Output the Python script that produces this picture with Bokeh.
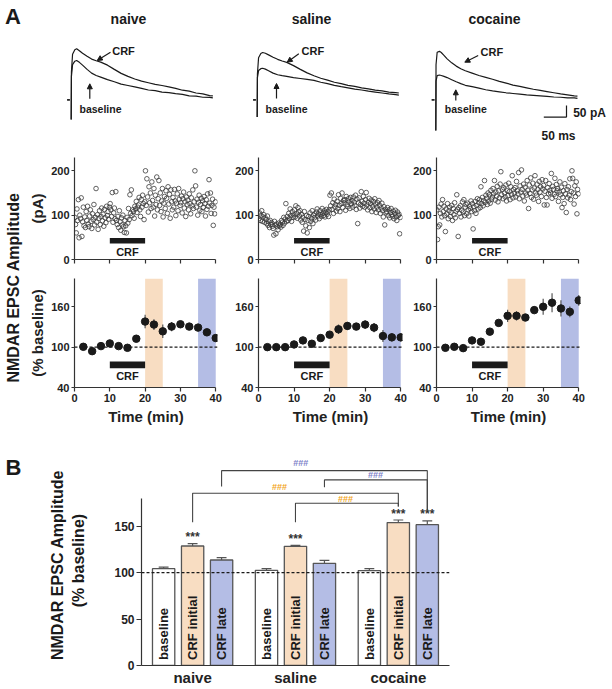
import numpy as np
from math import pi
from bokeh.plotting import figure
from bokeh.layouts import row, column
from bokeh.models import FixedTicker, Arrow, NormalHead, Span, Range1d, CustomLabelingPolicy
from bokeh.embed import file_html
from bokeh.resources import INLINE
from bokeh.core.properties import value

FONT = "Liberation Sans"
INK = "#1a1a1a"
AX = "#333333"
PEACH = "#F8DDC2"
LAV = "#B4BDE5"
ORANGE_TXT = "#F2A51C"
PURPLE_TXT = "#7D80C8"
nan = float("nan")

groups = ["naive", "saline", "cocaine"]
conditions = ["baseline", "CRF initial", "CRF late"]

# ---------------- example EPSC traces (ms, pA) ----------------
trace_t = [-9, -3, nan, 0, 0.5, 3, 8, 12, 18, 25, 35, 45, 55, 65, 80, 95, 110, 125,
           140, 155, 170, 185, 200, 215, 230, 245, 260, 275, 290, 305, 312]
naive_crf = [0, 0, nan, -84, 120, 195, 214, 218, 210, 199, 186, 174, 167, 161, 148, 130, 113, 100,
             89, 80, 73, 66, 61, 55, 49, 41, 37, 29, 25, 18, 17]
naive_base = [0, 0, nan, -84, 100, 150, 165, 168, 160, 148, 130, 114, 104, 97, 86, 77, 67, 61,
              55, 49, 42, 39, 33, 31, 26, 23, 17, 16, 11, 10, 8]
saline_crf = [0, 0, nan, -73, 110, 180, 198, 202, 199, 192, 182, 173, 166, 160, 146, 130, 115, 103,
              92, 84, 75, 69, 62, 57, 51, 47, 41, 38, 33, 31, 29]
saline_base = [0, 0, nan, -73, 95, 125, 133, 135, 131, 124, 114, 107, 103, 100, 95, 91, 87, 83,
               75, 69, 62, 56, 51, 46, 42, 37, 33, 29, 25, 22, 20]
cocaine_crf = [0, 0, nan, -131, 150, 203, 207, 202, 190, 175, 158, 144, 133, 124, 114, 104, 96, 88,
               79, 71, 63, 57, 51, 45, 40, 35, 30, 25, 21, 17, 16]
cocaine_base = [0, 0, nan, -131, 80, 103, 106, 104, 100, 95, 86, 77, 69, 62, 56, 50, 43, 38,
                34, 30, 27, 24, 21, 19, 17, 15, 12, 11, 8, 8, 6]
traces_crf = [naive_crf, saline_crf, cocaine_crf]
traces_base = [naive_base, saline_base, cocaine_base]
scale_pa = 50
scale_ms = 50

# ---------------- time courses: single cell amplitudes (pA) ----------------
scatter_t = np.arange(200) * 0.2 + 0.1
naive_amp = [
    95, 79, 60, 114, 88, 135, 49, 100, 92, 139,
    52, 85, 118, 76, 96, 72, 108, 88, 120, 80,
    74, 98, 112, 86, 70, 103, 90, 124, 78, 95,
    160, 84, 101, 68, 93, 110, 79, 97, 116, 87,
    102, 75, 113, 94, 83, 120, 99, 108, 91, 118,
    126, 112, 97, 151, 84, 105, 116, 92, 153, 88,
    79, 97, 72, 110, 85, 66, 94, 78, 100, 74,
    61, 88, 76, 60, 95, 82, 115, 90, 146, 104,
    157, 99, 112, 108, 93, 120, 114, 131, 106, 118,
    123, 140, 112, 97, 135, 118, 145, 126, 90, 130,
    200, 122, 182, 141, 107, 164, 128, 150, 115, 175,
    133, 118, 160, 98, 145, 124, 186, 112, 137, 178,
    122, 150, 108, 132, 160, 96, 127, 142, 115, 155,
    138, 104, 164, 125, 147, 93, 157, 130, 112, 140,
    118, 158, 132, 99, 127, 148, 110, 160, 136, 122,
    128, 143, 105, 137, 152, 116, 130, 97, 141, 124,
    134, 112, 148, 126, 103, 139, 121, 157, 115, 130,
    200, 166, 118, 136, 100, 129, 145, 111, 124, 138,
    108, 132, 118, 142, 126, 98, 135, 113, 148, 120,
    180, 127, 150, 104, 122, 136, 77, 118, 103, 130,
]
saline_amp = [
    92, 105, 88, 99, 110, 86, 96, 101, 84, 94,
    90, 81, 98, 77, 85, 72, 88, 79, 83, 75,
    70, 55, 86, 78, 58, 80, 74, 67, 82, 76,
    79, 73, 88, 84, 77, 95, 82, 91, 126, 86,
    97, 88, 104, 92, 114, 99, 86, 108, 95, 101,
    112, 96, 121, 103, 93, 117, 107, 98, 110, 89,
    102, 84, 95, 64, 108, 90, 76, 99, 60, 88,
    97, 72, 105, 86, 93, 110, 81, 100, 94, 103,
    89, 107, 114, 98, 103, 92, 110, 101, 97, 115,
    104, 99, 110, 96, 106, 113, 102, 108, 97, 112,
    145, 121, 150, 113, 128, 104, 136, 118, 124, 109,
    131, 115, 146, 122, 108, 138, 126, 150, 117, 133,
    128, 135, 111, 142, 124, 119, 137, 130, 115, 140,
    126, 133, 118, 141, 129, 122, 145, 113, 136, 81,
    128, 139, 116, 124, 153, 131, 120, 142, 127, 118,
    135, 151, 123, 112, 129, 138, 117, 126, 134, 108,
    120, 131, 114, 137, 125, 106, 118, 128, 112, 133,
    122, 104, 116, 127, 110, 96, 119, 78, 113, 105,
    108, 117, 99, 112, 94, 106, 115, 101, 97, 109,
    92, 104, 111, 96, 88, 107, 99, 102, 58, 95,
]
cocaine_amp = [
    112, 45, 74, 118, 78, 104, 125, 96, 135, 108,
    120, 99, 63, 114, 103, 126, 92, 110, 118, 97,
    106, 122, 88, 115, 101, 128, 94, 109, 146, 113,
    52, 117, 104, 121, 96, 111, 130, 107, 135, 99,
    118, 124, 103, 127, 112, 98, 120, 115, 132, 108,
    126, 69, 119, 110, 131, 104, 122, 137, 114, 128,
    135, 117, 164, 126, 140, 121, 133, 178, 129, 145,
    138, 124, 150, 132, 146, 127, 156, 136, 141, 160,
    148, 178, 134, 152, 143, 165, 130, 155, 139, 170,
    198, 146, 158, 137, 162, 150, 141, 168, 132, 155,
    144, 172, 153, 135, 164, 147, 189, 139, 158, 150,
    162, 141, 176, 155, 148, 196, 137, 166, 152, 202,
    158, 143, 170, 132, 163, 150, 145, 178, 156, 115,
    168, 149, 184, 140, 157, 172, 136, 161, 189, 150,
    145, 170, 158, 131, 176, 152, 164, 142, 180, 159,
    167, 123, 154, 178, 140, 123, 162, 148, 171, 156,
    150, 194, 138, 165, 158, 147, 183, 142, 169, 155,
    160, 131, 152, 175, 146, 163, 117, 140, 155, 126,
    171, 148, 106, 158, 139, 164, 145, 182, 135, 153,
    200, 183, 150, 125, 166, 142, 175, 103, 158, 148,
]
scatter_amp = [naive_amp, saline_amp, cocaine_amp]

# ---------------- time courses: group averages (% baseline) ----------------
summary_t = [2.5, 5, 7.5, 10, 12.5, 15, 17.5, 20, 22.5, 25, 27.5, 30, 32.5, 35, 37.5, 40]
naive_mean = [100.5, 94, 101.5, 105.5, 101.5, 99, 112.5, 138, 133.5, 123.5, 130.5, 134, 130.5, 129, 122, 113.5]
naive_sem = [1, 2, 1, 1.5, 1, 1, 5, 10, 8, 10, 7, 5, 4, 3, 3, 5]
saline_mean = [100, 100, 100, 104, 110, 105, 113.5, 118.5, 126.5, 131.5, 130.5, 133.5, 129, 116.5, 114.5, 114.5]
saline_sem = [1, 1, 1, 1.5, 2, 4, 3, 3, 7, 6, 5, 6, 7, 9, 6, 6]
cocaine_mean = [99, 100.5, 98.5, 110, 108, 123, 136, 146.5, 146.5, 144, 155, 160, 166, 157.5, 152.5, 169.5]
cocaine_sem = [2, 1.5, 2, 2, 2, 2, 3, 9, 7, 5, 5, 12, 14, 12, 8, 8]
summary_mean = [naive_mean, saline_mean, cocaine_mean]
summary_sem = [naive_sem, saline_sem, cocaine_sem]
crf_on, crf_off = 10, 20
initial_win = (20, 25)
late_win = (35, 40)

# ---------------- bar summary (% baseline) ----------------
bar_mean = {"naive": [104.3, 128.8, 113.7], "saline": [102.5, 128.4, 110.1], "cocaine": [102.2, 154.0, 151.8]}
bar_sem = {"naive": [1.8, 2.5, 2.5], "saline": [1.8, 1.1, 3.2], "cocaine": [2.1, 2.8, 4.0]}
cond_colors = ["white", PEACH, LAV]


def base_fig(w, h, xr, yr, bl=0, br=0, bt=0, bb=0, axes=True):
    kw = dict(width=w, height=h, x_range=xr, y_range=yr, output_backend="svg",
              toolbar_location=None, tools="", min_border_left=bl, min_border_right=br,
              min_border_top=bt, min_border_bottom=bb)
    if not axes:
        kw.update(x_axis_location=None, y_axis_location=None)
    p = figure(**kw)
    p.outline_line_color = None
    for g in p.grid:
        g.visible = False
    p.background_fill_color = "white"
    p.border_fill_color = "white"
    return p


def txt(p, x, y, s, size, align="center", baseline="middle", angle=0.0, color=INK, style="bold"):
    p.text(x=[x], y=[y], text=[s], angle=angle, text_font=value(FONT),
           text_font_size=value(size), text_font_style=value(style),
           text_align=value(align), text_baseline=value(baseline), text_color=color)


def style_axis(ax, ticks, size="11px", tick_out=3, standoff=2):
    ax.ticker = FixedTicker(ticks=ticks)
    ax.axis_line_color = AX
    ax.axis_line_width = 1.2
    ax.major_tick_line_color = AX
    ax.major_tick_line_width = 1.2
    ax.major_tick_out = tick_out
    ax.major_tick_in = 0
    ax.minor_tick_line_color = None
    ax.major_label_text_font = FONT
    ax.major_label_text_font_style = "bold"
    ax.major_label_text_font_size = size
    ax.major_label_text_color = "#222222"
    ax.major_label_standoff = standoff
    ax.axis_label_text_font = FONT
    ax.axis_label_text_font_style = "bold"
    ax.axis_label_text_font_size = "15px"
    ax.axis_label_text_color = "#222222"
    ax.axis_label_standoff = 2


# ================= panel A: traces =================
TR_W, TR_H = 612, 145
PX_MS, PX_PA = 0.454, 0.234
I_TOP = 99.3 / PX_PA


def tx(sx):
    return sx / PX_MS


def ty(sy):
    return I_TOP - sy / PX_PA


tr = base_fig(TR_W, TR_H, Range1d(0, TR_W / PX_MS), Range1d(I_TOP - TR_H / PX_PA, I_TOP), axes=False)
stim_sx = [70.7, 256.7, 435.3]
title_sx = [128, 311, 494]
for gi, g in enumerate(groups):
    t0 = tx(stim_sx[gi])
    tt = np.array(trace_t, dtype=float) + t0
    tr.line(tt, np.array(traces_base[gi], dtype=float), line_color=INK, line_width=1.2)
    tr.line(tt, np.array(traces_crf[gi], dtype=float), line_color=INK, line_width=1.2)
    txt(tr, tx(title_sx[gi]), ty(18), g, "14px")
txt(tr, tx(4.5), ty(16), "A", "22px", align="left")

crf_arrows = [((110, 51.7), (96.7, 60)), ((298.3, 53.3), (286.7, 61.7)), ((477.7, 55), (464.3, 61.7))]
crf_text = [(111.7, 50), (301, 50), (480, 51.7)]
base_arrows = [((89.3, 98.3), (89.3, 83.3)), ((276, 98), (276, 83)), ((455.3, 100), (455.3, 89.3))]
base_text = [(79, 108.3), (265, 108.3), (444.3, 108.3)]
for (a, b) in crf_arrows + base_arrows:
    tr.add_layout(Arrow(x_start=tx(a[0]), y_start=ty(a[1]), x_end=tx(b[0]), y_end=ty(b[1]),
                        line_color=INK, line_width=1.2,
                        end=NormalHead(size=5, fill_color=INK, line_color=INK, line_width=1)))
for (sx, sy) in crf_text:
    txt(tr, tx(sx), ty(sy), "CRF", "11px", align="left")
for (sx, sy) in base_text:
    txt(tr, tx(sx), ty(sy), "baseline", "10.5px", align="left")
sb_t, sb_i = tx(566), ty(116.7)
tr.segment(x0=[sb_t, sb_t - scale_ms], y0=[sb_i, sb_i], x1=[sb_t, sb_t], y1=[sb_i + scale_pa, sb_i],
           line_color=INK, line_width=1.2)
txt(tr, tx(572.7), ty(112.5), "%d pA" % scale_pa, "12px", align="left")
txt(tr, tx(541), ty(135.5), "%d ms" % scale_ms, "12px", align="left")

# ================= panel A: time courses =================
COLS = [dict(w=206, bl=45, br=15), dict(w=178, bl=24, br=8), dict(w=202, bl=24, br=32)]
X_MAX = 40.5
hide_labels = CustomLabelingPolicy(code="return new Set()")
scatter_figs, summary_figs = [], []
for gi, g in enumerate(groups):
    c = COLS[gi]
    # single-cell scatter
    s = base_fig(c["w"], 125, Range1d(0, X_MAX), Range1d(0, 230), bl=c["bl"], br=c["br"], bt=12, bb=6)
    s.scatter(scatter_t, scatter_amp[gi], marker="circle", size=4.6, fill_color=None,
              line_color="#3a3a3a", line_width=0.8)
    s.quad(left=[crf_on], right=[crf_off], bottom=[36], top=[48.5], fill_color=INK, line_color=None)
    txt(s, (crf_on + crf_off) / 2, 16, "CRF", "11px")
    style_axis(s.yaxis[0], [0, 100, 200])
    style_axis(s.xaxis[0], [0, 10, 20, 30, 40], size="6px", tick_out=4, standoff=0)
    s.xaxis[0].major_label_policy = hide_labels
    s.xaxis[0].bounds = (0, 40)
    if gi == 0:
        s.yaxis[0].axis_label = "(pA)"
    scatter_figs.append(s)

    # group average
    m = base_fig(c["w"], 165, Range1d(0, X_MAX), Range1d(40, 202), bl=c["bl"], br=c["br"], bt=8, bb=48)
    m.quad(left=[initial_win[0], late_win[0]], right=[initial_win[1], late_win[1]],
           bottom=[40, 40], top=[202, 202], fill_color=[PEACH, LAV], line_color=None)
    m.add_layout(Span(location=100, dimension="width", line_color=INK, line_width=1.3, line_dash="3 2"))
    mean = np.array(summary_mean[gi])
    sem = np.array(summary_sem[gi])
    m.segment(summary_t, mean - sem, summary_t, mean + sem, line_color="#555555", line_width=1.2)
    m.scatter(summary_t, mean, marker="circle", size=7.5, fill_color=INK, line_color=INK)
    m.quad(left=[crf_on], right=[crf_off], bottom=[68.5], top=[78.5], fill_color=INK, line_color=None)
    txt(m, (crf_on + crf_off) / 2, 57.5, "CRF", "11px")
    style_axis(m.yaxis[0], [40, 100, 160])
    style_axis(m.xaxis[0], [0, 10, 20, 30, 40], tick_out=4)
    m.xaxis[0].bounds = (0, 40)
    m.xaxis[0].axis_label = "Time (min)"
    m.xaxis[0].axis_label_standoff = 3
    if gi == 0:
        m.yaxis[0].axis_label = "(% baseline)"
    summary_figs.append(m)

labA = base_fig(26, 290, Range1d(0, 26), Range1d(0, 290), axes=False)
txt(labA, 13, 148, "NMDAR EPSC Amplitude", "16px", angle=pi / 2)

# ================= panel B: bars =================
GROUP_STEP = 3.55
bar_x, bar_top, bar_err, bar_fill, bar_lab = [], [], [], [], []
for gi, g in enumerate(groups):
    for ci, cnd in enumerate(conditions):
        bar_x.append(gi * GROUP_STEP + ci)
        bar_top.append(bar_mean[g][ci])
        bar_err.append(bar_sem[g][ci])
        bar_fill.append(cond_colors[ci])
        bar_lab.append(cnd)
bar_x = np.array(bar_x)
bar_top = np.array(bar_top)
bar_err = np.array(bar_err)

PX_UNIT = 0.932
B_H = 253
b = base_fig(502, B_H, Range1d(-0.764, 9.866), Range1d(0, (B_H - 5 - 22) / PX_UNIT),
             bl=31, br=163, bt=5, bb=22)
b.add_layout(Span(location=100, dimension="width", line_color=INK, line_width=1.2, line_dash="3 2"))
b.segment(bar_x, bar_top, bar_x, bar_top + bar_err, line_color="#555555", line_width=1.2)
b.segment(bar_x - 0.17, bar_top + bar_err, bar_x + 0.17, bar_top + bar_err, line_color="#555555", line_width=1.2)
b.vbar(x=bar_x, top=bar_top, bottom=0, width=0.77, fill_color=bar_fill, line_color="#555555", line_width=1.3)
b.text(x=bar_x, y=[6] * len(bar_x), text=bar_lab, angle=pi / 2, text_font=value(FONT),
       text_font_size=value("13px"), text_font_style=value("bold"), text_align=value("left"),
       text_baseline=value("middle"), text_color=INK)
# asterisks vs baseline
star_idx = [1, 4, 7, 8]
b.text(x=bar_x[star_idx], y=(bar_top + bar_err)[star_idx] + 7, text=["***"] * 4, text_font=value(FONT),
       text_font_size=value("12px"), text_font_style=value("bold"), text_align=value("center"),
       text_baseline=value("middle"), text_color="#333333")
# between-group comparisons
brackets = [
    (1, 7, 185.6, 154.5, 171.4, 4.0, 192.0, ORANGE_TXT),
    (4, 7, 174.8, 154.5, 171.4, 6.28, 179.0, ORANGE_TXT),
    (2, 8, 210.0, 192.8, 167.0, 4.73, 218.0, PURPLE_TXT),
    (5, 8, 200.0, 192.0, 167.0, 7.31, 205.0, PURPLE_TXT),
]
for (i1, i2, yh, y1b, y2b, lx, ly, col) in brackets:
    x1, x2 = bar_x[i1], bar_x[i2]
    b.line([x1, x1, x2, x2], [y1b, yh, yh, y2b], line_color="#444444", line_width=1.1)
    txt(b, lx, ly, "###", "9px", color=col)
style_axis(b.yaxis[0], [0, 50, 100, 150], size="12px", tick_out=5, standoff=2)
b.yaxis[0].bounds = (0, 180)
style_axis(b.xaxis[0], [gi * GROUP_STEP + 1 for gi in range(3)], size="15px", tick_out=0, standoff=3)
b.xaxis[0].major_label_overrides = {gi * GROUP_STEP + 1: g for gi, g in enumerate(groups)}

labB = base_fig(110, B_H, Range1d(0, 110), Range1d(0, B_H), axes=False)
txt(labB, 5, B_H - 30, "B", "22px", align="left")
txt(labB, 57, 688 - 575, "NMDAR EPSC Amplitude", "16px", angle=pi / 2)
txt(labB, 78, 688 - 570, "(% baseline)", "16px", angle=pi / 2)

layout = column(
    tr,
    row(labA, column(row(*scatter_figs), row(*summary_figs))),
    row(labB, b),
)
open("out.html", "w").write(file_html(layout, INLINE))
